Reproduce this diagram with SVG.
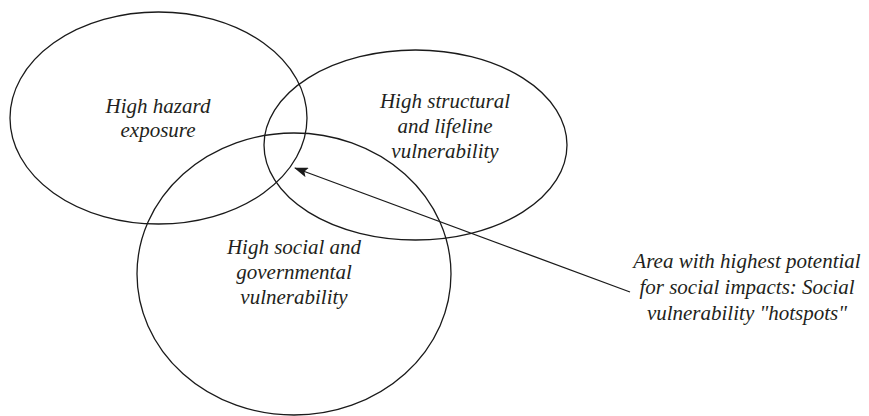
<svg xmlns="http://www.w3.org/2000/svg" width="869" height="416" viewBox="0 0 869 416">
<defs>
<style>
.shape{fill:none;stroke:#1a1a1a;stroke-width:1.3}
.lbl{font-family:"Liberation Serif","Times New Roman",serif;font-style:italic;font-size:21px;fill:#231f20;text-anchor:middle}
.conn{stroke:#1a1a1a;stroke-width:1.3;fill:none}
</style>
<marker id="arrow" markerWidth="14" markerHeight="10" refX="13" refY="5" orient="auto" markerUnits="userSpaceOnUse">
<path d="M0,0 L14,5 L0,10 L3,5 Z" fill="#1a1a1a"/>
</marker>
</defs>
<rect width="869" height="416" fill="#ffffff"/>
<g id="hazard">
<ellipse class="shape" cx="158.5" cy="118" rx="148.5" ry="106"/>
<text class="lbl" x="158" y="113">High hazard</text>
<text class="lbl" x="158" y="137">exposure</text>
</g>
<g id="structural">
<ellipse class="shape" cx="415.5" cy="145" rx="151.5" ry="95"/>
<text class="lbl" x="445" y="108">High structural</text>
<text class="lbl" x="445" y="133">and lifeline</text>
<text class="lbl" x="445" y="158">vulnerability</text>
</g>
<g id="social">
<ellipse class="shape" cx="294" cy="274" rx="157" ry="141"/>
<text class="lbl" x="294" y="254">High social and</text>
<text class="lbl" x="294" y="279">governmental</text>
<text class="lbl" x="294" y="304">vulnerability</text>
</g>
<g id="hotspot-label">
<text class="lbl" x="747" y="268">Area with highest potential</text>
<text class="lbl" x="747" y="294">for social impacts: Social</text>
<text class="lbl" x="747" y="320">vulnerability "hotspots"</text>
</g>
<g id="connectors">
<line class="conn" x1="630" y1="292" x2="295" y2="168" marker-end="url(#arrow)"/>
</g>
</svg>
